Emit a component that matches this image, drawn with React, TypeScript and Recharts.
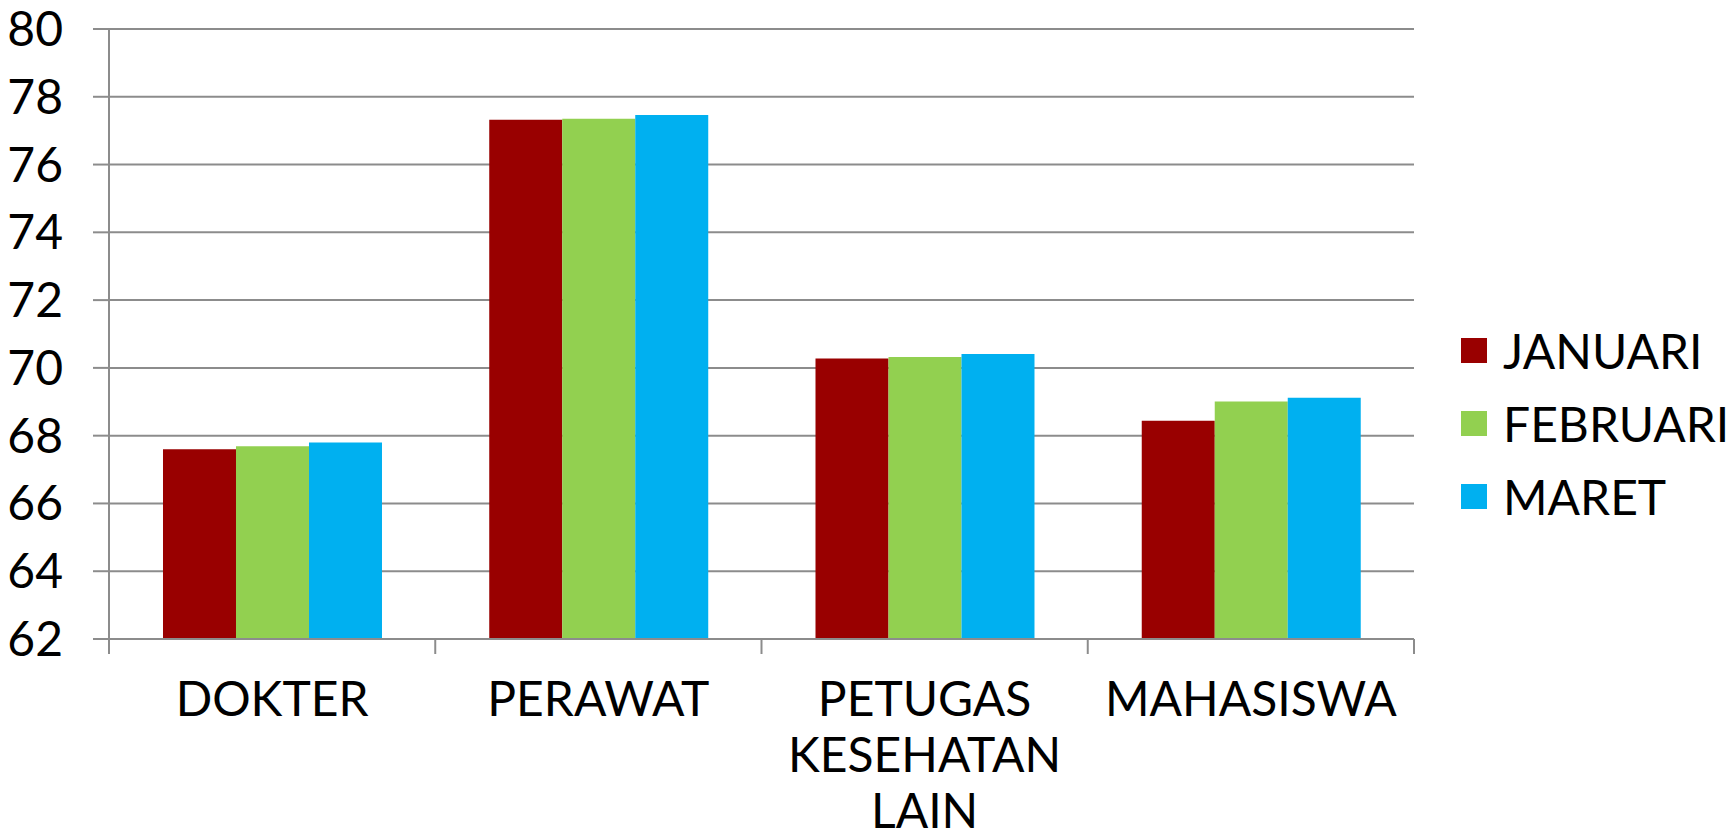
import React from 'react';
import { BarChart, Bar, XAxis, YAxis, CartesianGrid, Legend } from 'recharts';

const categories = ['DOKTER', 'PERAWAT', 'PETUGAS KESEHATAN LAIN', 'MAHASISWA'];
const seriesNames = ['JANUARI', 'FEBRUARI', 'MARET'];
const januari = [67.6, 77.32, 70.28, 68.44];
const februari = [67.69, 77.35, 70.32, 69.01];
const maret = [67.8, 77.46, 70.41, 69.12];
const yTicks = [62, 64, 66, 68, 70, 72, 74, 76, 78, 80];

const data = categories.map((name, i) => ({
  name,
  jan: januari[i],
  feb: februari[i],
  mar: maret[i],
}));

const FONT = 'Lato';
const GRID = '#8c8c8c';

const XTick = (props: any) => {
  const { x, y, payload, index, visibleTicksCount } = props;
  const half = payload && payload.offset ? payload.offset : 0;
  const lines = String(payload.value).split(' ');
  const isLast = index === (visibleTicksCount || categories.length) - 1;
  return (
    <g>
      <line x1={x - half} x2={x - half} y1={y} y2={y + 15} stroke={GRID} strokeWidth={2} />
      {isLast && (
        <line x1={x + half} x2={x + half} y1={y} y2={y + 15} stroke={GRID} strokeWidth={2} />
      )}
      <text x={x} y={y} textAnchor="middle" fontFamily={FONT} fontSize={48} fill="#000">
        {lines.map((l, i) => (
          <tspan key={i} x={x} y={y + 77 + i * 56}>
            {l}
          </tspan>
        ))}
      </text>
    </g>
  );
};

const LegendContent = (props: any) => {
  const { payload } = props;
  const items = [...(payload || [])].sort(
    (a: any, b: any) => seriesNames.indexOf(a.value) - seriesNames.indexOf(b.value)
  );
  return (
    <div style={{ fontFamily: FONT }}>
      {items.map((p: any, i: number) => (
        <div key={i} style={{ display: 'flex', alignItems: 'center', height: 73 }}>
          <div style={{ width: 26, height: 25, background: p.color, marginRight: 16 }} />
          <span style={{ fontSize: 48, lineHeight: 1, color: '#000' }}>{p.value}</span>
        </div>
      ))}
    </div>
  );
};

export default function App() {
  return (
    <div style={{ position: 'absolute', left: 0, top: 0, fontFamily: FONT, background: '#fff' }}>
      <BarChart
        width={1731}
        height={837}
        data={data}
        margin={{ top: 29, right: 47, left: 0, bottom: 0 }}
        barCategoryGap="16.55%"
        barGap={0}
      >
        <CartesianGrid vertical={false} stroke={GRID} strokeWidth={2} />
        <XAxis
          dataKey="name"
          interval={0}
          tickLine={false}
          tickSize={0}
          tickMargin={0}
          height={198}
          axisLine={{ stroke: GRID, strokeWidth: 2 }}
          tick={<XTick />}
        />
        <YAxis
          domain={[62, 80]}
          ticks={yTicks}
          interval={0}
          width={109}
          tickSize={16}
          tickMargin={30}
          axisLine={{ stroke: GRID, strokeWidth: 2 }}
          tickLine={{ stroke: GRID, strokeWidth: 2 }}
          tick={{ fontSize: 48, fill: '#000', fontFamily: FONT }}
        />
        <Legend
          layout="horizontal"
          verticalAlign="middle"
          align="right"
          wrapperStyle={{ left: 1461, top: 314, width: 270 }}
          content={<LegendContent />}
        />
        <Bar dataKey="jan" name="JANUARI" fill="#990000" isAnimationActive={false} />
        <Bar dataKey="feb" name="FEBRUARI" fill="#92D050" isAnimationActive={false} />
        <Bar dataKey="mar" name="MARET" fill="#00B0F0" isAnimationActive={false} />
      </BarChart>
    </div>
  );
}
